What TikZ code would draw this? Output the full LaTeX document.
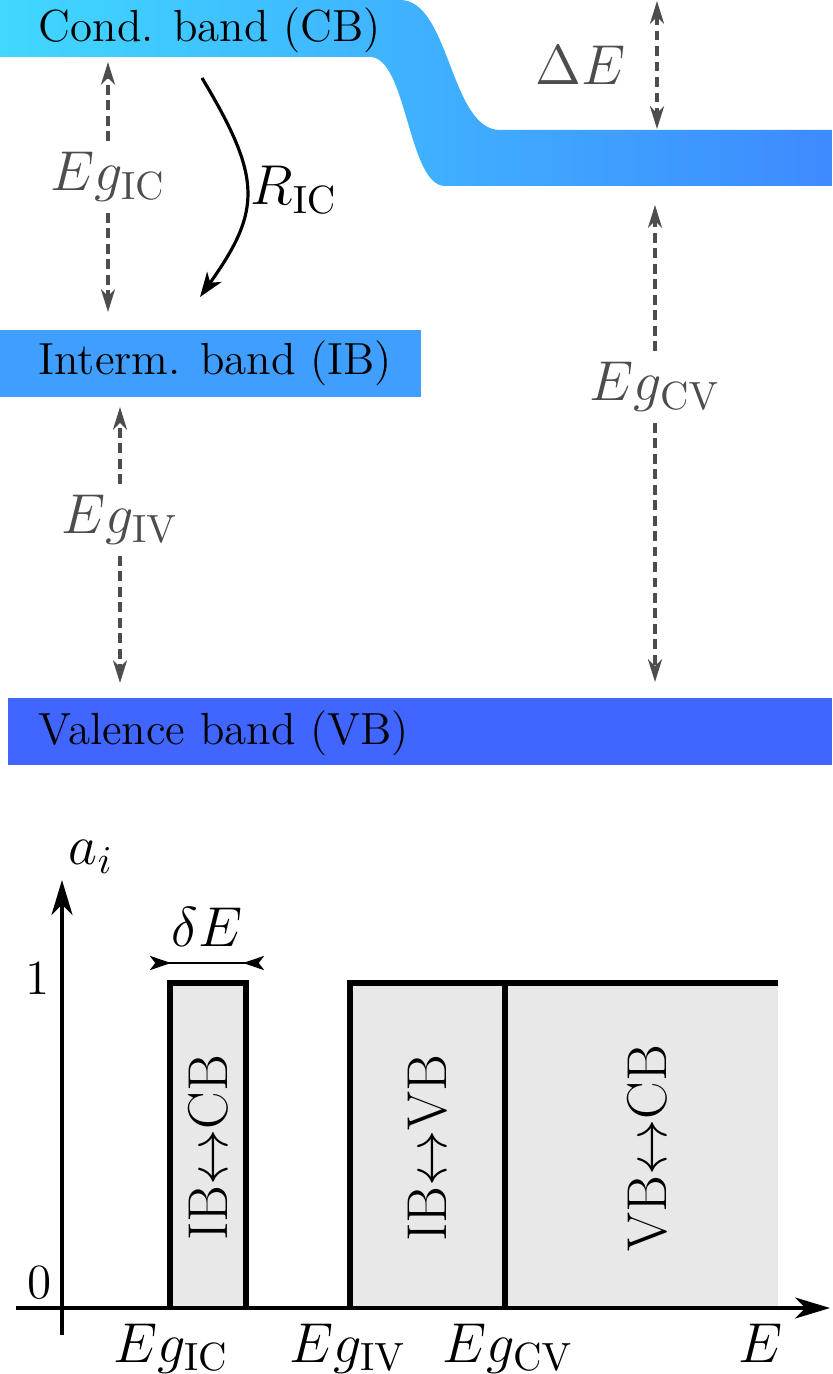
\RequirePackage{fix-cm}
\documentclass[tikz,border=0pt]{standalone}
\usepackage{amsmath}
\usepackage{tikz}
\usetikzlibrary{arrows.meta}
\usetikzlibrary{positioning}
\definecolor{cbcyan}{RGB}{64,216,255}
\definecolor{cbmid}{RGB}{64,178,255}
\definecolor{cbblue}{RGB}{62,138,255}
\definecolor{ibblue}{RGB}{64,158,255}
\definecolor{vbblue}{RGB}{64,102,255}
\definecolor{dimgray}{RGB}{77,77,77}
\definecolor{boxgray}{RGB}{232,232,232}

\begin{document}
\begin{tikzpicture}[
		x=0.1mm, y=-0.1mm,
		>={Stealth[length=6.5pt,width=4pt,inset=2pt]},
		bandlabel/.style={font=\fontsize{12.8}{15}\selectfont, inner sep=0pt, anchor=base west},
		gaplabel/.style={font=\fontsize{16}{19}\selectfont, text=dimgray, inner sep=3pt},
		gaparrow/.style={dimgray, line width=1pt, dash pattern=on 2.8pt off 1.6pt},
		mathlabel/.style={font=\fontsize{16}{19}\selectfont, inner sep=1pt},
		ticklabel/.style={font=\fontsize{14}{17}\selectfont, inner sep=0pt},
		translabel/.style={font=\fontsize{16}{19}\selectfont, rotate=90, inner sep=0pt},
		axisline/.style={line width=1pt, -{Stealth[length=10pt,width=6pt,inset=3pt]}},
		boxline/.style={line width=1.9pt, fill=boxgray}
	]
	\useasboundingbox (0,0) rectangle (832,1374);

	% Parameters
	\def\yone{983}
	\def\yzero{1308}

	% Bands
	\shade[left color=cbcyan, middle color=cbmid, right color=cbblue]
	(0,0) -- (400,0) .. controls (450,0) and (450,130) .. (500,130) -- (832,130)
	-- (832,186) -- (445,186) .. controls (408,186) and (407,57) .. (370,57) -- (0,57) -- cycle;
	\fill[ibblue] (0,330) rectangle (421,397);
	\fill[vbblue] (8,698) rectangle (832,765);

	\node[bandlabel] (cb) at (38,42) {Cond. band (CB)};
	\node[bandlabel] (ib) at (38,375) {Interm. band (IB)};
	\node[bandlabel] (vb) at (38,744) {Valence band (VB)};

	% Gap arrows
	\coordinate (egic top) at (108,62);
	\coordinate (egic bot) at (108,312);
	\coordinate (egiv top) at (120,407);
	\coordinate (egiv bot) at (120,683);
	\coordinate (egcv top) at (655,205);
	\coordinate (egcv bot) at (655,682);
	\coordinate (shift top) at (657,1);
	\coordinate (shift bot) at (657,129);

	\node[gaplabel] (egic) at (108,177) {$Eg_{\mathrm{IC}}$};
	\node[gaplabel] (egiv) at (120,520) {$Eg_{\mathrm{IV}}$};
	\node[gaplabel] (egcv) at (655,387) {$Eg_{\mathrm{CV}}$};

	\foreach \g in {egic,egiv,egcv}{
			\draw[gaparrow, ->] (\g) -- (\g\space top);
			\draw[gaparrow, ->] (\g) -- (\g\space bot);
		}
	\draw[gaparrow, <->] (shift top) -- (shift bot)
	node[gaplabel, midway, left=5.5pt] (dEc) {$\Delta E$};

	% Recombination IB <- CB
	\coordinate (ric start) at (202,78);
	\coordinate (ric end) at (200,297);
	\draw[line width=0.9pt, -{Stealth[length=7pt,width=5pt,inset=2pt]}]
	(ric start) .. controls (262,178) and (262,210) .. (ric end);
	\node[mathlabel] (ric) at (294,190) {$R_{\mathrm{IC}}$};

	% Absorptivity boxes
	\filldraw[boxline] (170,\yzero) -- (170,\yone) -- (246,\yone) -- (246,\yzero);
	\fill[boxgray] (350,\yone) rectangle (778,\yzero);
	\draw[boxline, fill=none] (350,\yzero) -- (350,\yone) -- (778,\yone);
	\draw[boxline, fill=none] (505,\yone) -- (505,\yzero);

	\node[translabel] (ibcb) at (208,1148) {IB$\leftrightarrow$CB};
	\node[translabel] (ibvb) at (428,1148) {IB$\leftrightarrow$VB};
	\node[translabel] (vbcb) at (647,1148) {VB$\leftrightarrow$CB};

	% Width of the IB band
	\coordinate (dE left) at (150,963);
	\coordinate (dE right) at (264,963);
	\draw[line width=0.8pt, {Stealth[reversed,length=6pt,width=4pt,inset=1.5pt]}-{Stealth[reversed,length=6pt,width=4pt,inset=1.5pt]}]
	(dE left) -- (dE right);
	\node[mathlabel] (dEw) at (207,927) {$\delta E$};

	% Axes
	\draw[axisline] (16,\yzero) -- (830,\yzero);
	\draw[axisline] (62,1335) -- (62,880);
	\node[mathlabel] (ai) at (91,857) {$a_i$};
	\node[ticklabel] (one) at (38,978) {1};
	\node[ticklabel] (zero) at (40,1283) {0};

	\foreach \x/\s in {171/IC,348/IV,508/CV}{
			\node[mathlabel, anchor=base] (x\s) at (\x,1362) {$Eg_{\mathrm{\s}}$};
		}
	\node[mathlabel, anchor=base] (xE) at (761,1362) {$E$};
\end{tikzpicture}
\end{document}
